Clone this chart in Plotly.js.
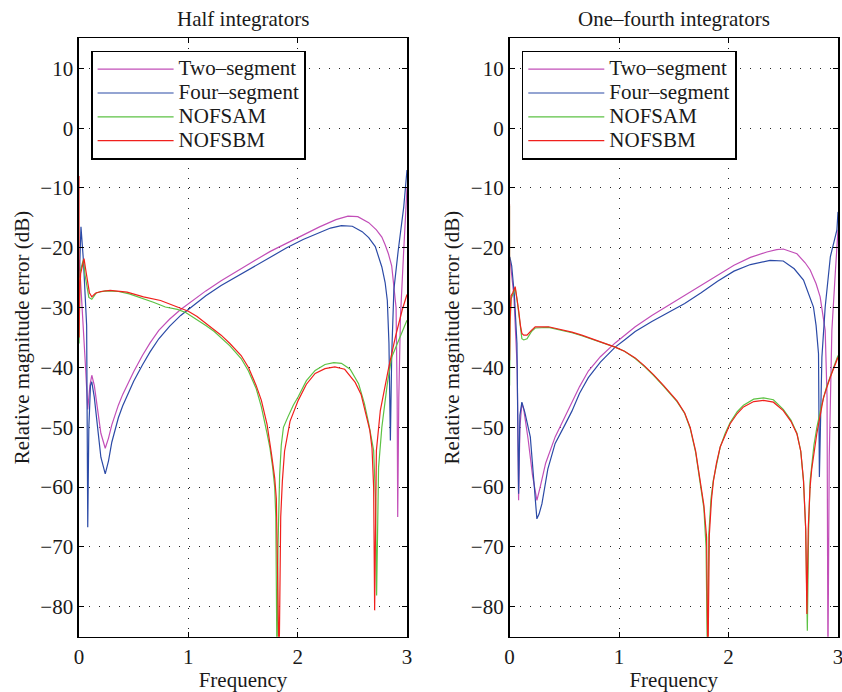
<!DOCTYPE html>
<html>
<head>
<meta charset="utf-8">
<script src="https://cdn.plot.ly/plotly-3.0.1.min.js"></script>
<style>html,body{margin:0;padding:0;background:#fff}#chart{width:842px;height:692px}</style>
</head>
<body>
<div id="chart"></div>
<script>
// ---------- data ----------
const seriesNames = ["Two\u2013segment", "Four\u2013segment", "NOFSAM", "NOFSBM"];
const panelTitles = ["Half integrators", "One\u2013fourth integrators"];
const xTitle = "Frequency";
const yTitle = "Relative magnitude error (dB)";
const xTicks = [0, 1, 2, 3];
const yTicks = [-80, -70, -60, -50, -40, -30, -20, -10, 0, 10];

// Left panel: Half integrators
const halfTwoX = [0.003, 0.03, 0.06, 0.08, 0.1, 0.117, 0.14, 0.17, 0.2, 0.24, 0.27, 0.3, 0.33, 0.36, 0.4, 0.45, 0.5, 0.58, 0.65, 0.73, 0.83, 0.93, 1.05, 1.16, 1.3, 1.45, 1.6, 1.75, 1.9, 2.05, 2.2, 2.35, 2.46, 2.55, 2.65, 2.72, 2.77, 2.8, 2.83, 2.86, 2.88, 2.9, 2.91, 2.915, 2.925, 2.94, 2.97, 3.0];
const halfTwoY = [-22, -30, -40, -47, -43, -41.3, -43, -47, -51, -53.5, -51.8, -49.6, -47.8, -46.3, -44.5, -42.5, -40.7, -38, -35.9, -33.8, -31.9, -30.3, -28.6, -27.2, -25.5, -23.8, -22.2, -20.6, -19.2, -17.8, -16.5, -15.3, -14.7, -14.8, -15.8, -17, -18.2, -19.5, -21, -23, -26, -30, -45, -65, -45, -31.6, -20.4, -10];

const halfFourX = [0.003, 0.018, 0.04, 0.07, 0.08, 0.09, 0.105, 0.117, 0.14, 0.17, 0.2, 0.24, 0.27, 0.3, 0.33, 0.36, 0.4, 0.45, 0.5, 0.58, 0.65, 0.73, 0.83, 0.93, 1.05, 1.16, 1.3, 1.45, 1.6, 1.75, 1.9, 2.05, 2.2, 2.3, 2.4, 2.5, 2.59, 2.65, 2.71, 2.77, 2.8, 2.82, 2.835, 2.848, 2.86, 2.88, 2.92, 2.97, 3.0];
const halfFourY = [-25, -16.5, -22, -33, -66.7, -50, -43, -42.4, -45, -50, -55, -57.8, -55.6, -52.5, -50.2, -48.4, -46.4, -44.2, -42.3, -39.6, -37.4, -35.2, -33.1, -31.3, -29.5, -28, -26.3, -24.7, -23.1, -21.5, -20, -18.6, -17.4, -16.7, -16.3, -16.4, -17.3, -18.3, -19.8, -23.2, -25.8, -28.8, -36, -52.2, -38, -27, -20.4, -13.2, -7];

const halfAmX = [0, 0.003, 0.01, 0.025, 0.04, 0.055, 0.07, 0.09, 0.117, 0.16, 0.24, 0.36, 0.46, 0.58, 0.68, 0.79, 0.9, 0.976, 1.08, 1.16, 1.237, 1.3, 1.38, 1.483, 1.55, 1.62, 1.668, 1.72, 1.745, 1.77, 1.79, 1.8, 1.811, 1.82, 1.835, 1.85, 1.87, 1.91, 1.96, 2.005, 2.08, 2.16, 2.25, 2.33, 2.4, 2.48, 2.557, 2.61, 2.65, 2.695, 2.712, 2.722, 2.73, 2.74, 2.77, 2.82, 2.86, 2.94, 3.0];
const halfAmY = [-36, -28, -24, -23, -22, -24.5, -26.5, -28.3, -28.6, -27.5, -27.2, -27.3, -27.7, -28.4, -29.1, -29.9, -30.3, -30.8, -32, -33, -34, -35, -36.4, -38.5, -40.6, -43.5, -46.6, -51, -53.3, -56.5, -60, -65, -90, -70, -58, -53, -50, -48.3, -46.3, -44.9, -42.2, -40.5, -39.5, -39.2, -39.3, -40.3, -42.7, -46, -49.4, -53.9, -62, -78.1, -65, -56.7, -50, -42.7, -38.3, -34.9, -32.1];

const halfBmX = [0, 0.001, 0.006, 0.015, 0.03, 0.046, 0.06, 0.075, 0.095, 0.117, 0.15, 0.2, 0.285, 0.44, 0.59, 0.746, 0.9, 1.0, 1.08, 1.16, 1.237, 1.3, 1.38, 1.483, 1.55, 1.62, 1.668, 1.72, 1.76, 1.79, 1.805, 1.83, 1.845, 1.86, 1.88, 1.93, 2.005, 2.08, 2.16, 2.25, 2.34, 2.43, 2.526, 2.58, 2.62, 2.66, 2.68, 2.695, 2.704, 2.72, 2.756, 2.8, 2.833, 2.894, 2.956, 3.0];
const halfBmY = [-8, -35, -28, -24.3, -23, -21.8, -23.5, -25.5, -27.5, -28.2, -27.6, -27.3, -27.1, -27.4, -28.2, -28.8, -29.9, -30.6, -31.5, -32.6, -33.6, -34.6, -36, -38, -40, -43, -45.5, -49.5, -54.4, -58.5, -62, -90, -65, -59, -54, -49, -45.5, -42.8, -41, -40.2, -39.9, -40.3, -42.5, -44.5, -47.5, -50.5, -53.5, -60, -80.6, -53.9, -47.2, -42.7, -40, -34.9, -30.4, -27.8];

// Right panel: One-fourth integrators
const quarTwoX = [0.005, 0.04, 0.07, 0.083, 0.095, 0.113, 0.13, 0.17, 0.21, 0.25, 0.28, 0.33, 0.417, 0.5, 0.57, 0.64, 0.72, 0.83, 0.965, 1.05, 1.148, 1.3, 1.45, 1.6, 1.75, 1.9, 2.05, 2.2, 2.35, 2.44, 2.5, 2.625, 2.7, 2.746, 2.8, 2.837, 2.883, 2.9, 2.908, 2.92, 2.935, 2.944, 2.975, 3.0];
const quarTwoY = [-22, -28, -40, -62.2, -50, -46, -47, -52, -58, -62.2, -60, -56, -51.6, -48.5, -46, -43.2, -40.6, -38.2, -35.9, -34.6, -33.2, -31.3, -29.6, -27.9, -26.2, -24.5, -22.9, -21.6, -20.7, -20.3, -20.2, -21, -22.5, -23.7, -26, -28.2, -33.8, -45, -90, -55, -40, -33.8, -24.3, -17];

const quarFourX = [0.003, 0.02, 0.045, 0.068, 0.083, 0.095, 0.113, 0.14, 0.19, 0.22, 0.25, 0.27, 0.296, 0.35, 0.417, 0.5, 0.57, 0.64, 0.72, 0.83, 0.965, 1.05, 1.148, 1.3, 1.45, 1.6, 1.75, 1.9, 2.05, 2.2, 2.38, 2.5, 2.6, 2.685, 2.776, 2.8, 2.822, 2.83, 2.853, 2.883, 2.93, 2.99, 3.0];
const quarFourY = [-21.5, -23, -28, -36, -61.1, -48, -45.8, -47.5, -51.6, -58, -65.3, -64.5, -62.8, -57, -52.7, -49.8, -47.3, -44.3, -41.7, -39.1, -36.6, -35.4, -34, -32.3, -30.8, -29.3, -27.5, -25.6, -23.9, -22.8, -22.1, -22.2, -23.5, -25.4, -29.9, -33, -37.7, -58.3, -38.3, -29.9, -21.5, -17, -14];

const quarAmX = [0, 0.001, 0.005, 0.015, 0.03, 0.052, 0.07, 0.083, 0.1, 0.113, 0.13, 0.16, 0.2, 0.235, 0.356, 0.46, 0.57, 0.66, 0.752, 0.86, 0.965, 1.05, 1.148, 1.23, 1.315, 1.406, 1.47, 1.53, 1.6, 1.65, 1.7, 1.742, 1.775, 1.795, 1.808, 1.82, 1.84, 1.86, 1.89, 1.924, 1.97, 2.015, 2.08, 2.137, 2.23, 2.32, 2.41, 2.5, 2.57, 2.625, 2.66, 2.685, 2.705, 2.72, 2.732, 2.745, 2.76, 2.78, 2.807, 2.85, 2.898, 2.95, 3.0];
const quarAmY = [-13, -43, -33, -28.5, -27.8, -26.8, -28.8, -31, -33.5, -35.2, -35.4, -35.2, -34, -33.4, -33.3, -33.7, -34.2, -34.7, -35.3, -35.9, -36.6, -37.3, -38.5, -39.8, -41.3, -43.1, -44.4, -45.7, -47.7, -50.2, -54.2, -59.2, -63.5, -70, -90, -68, -62, -59, -56, -53.3, -51, -49.2, -47.4, -46.3, -45.3, -45.1, -45.4, -47, -48.8, -51, -54, -59, -67, -84, -67, -59, -56.5, -53, -50, -46.3, -43.1, -40.5, -38];

const quarBmX = [0, 0.001, 0.005, 0.015, 0.03, 0.052, 0.07, 0.083, 0.1, 0.113, 0.13, 0.16, 0.2, 0.235, 0.356, 0.46, 0.57, 0.66, 0.752, 0.86, 0.965, 1.05, 1.148, 1.23, 1.315, 1.406, 1.47, 1.53, 1.6, 1.65, 1.7, 1.742, 1.775, 1.8, 1.812, 1.825, 1.845, 1.863, 1.89, 1.924, 1.97, 2.015, 2.08, 2.137, 2.23, 2.32, 2.41, 2.5, 2.57, 2.625, 2.66, 2.685, 2.705, 2.716, 2.728, 2.745, 2.76, 2.776, 2.807, 2.868, 2.93, 3.0];
const quarBmY = [-12.7, -38.8, -32, -28, -27.5, -26.5, -28.5, -30.4, -33, -34.3, -34.6, -34.6, -33.8, -33.2, -33.2, -33.6, -34.1, -34.6, -35.2, -35.8, -36.6, -37.3, -38.4, -39.7, -41.2, -43, -44.3, -45.6, -47.6, -50, -54, -58.9, -63, -68.4, -90, -68, -62, -58.9, -56, -53.3, -51.2, -49.4, -47.7, -46.6, -45.7, -45.5, -45.8, -47.2, -49, -51.1, -54, -58.9, -67, -81.2, -67, -60, -57, -55, -51, -45, -41.6, -38.3];

// ---------- styling ----------
const colors = ["#c24fb8", "#2b4aa6", "#5cc244", "#f0201c"];
const FONT = "'Liberation Serif', 'Times New Roman', serif";
const TXT = "#1a1a1a";
const FS = 21;

function tr(x, y, i, xa, ya, legend) {
  return {x: x, y: y, type: "scatter", mode: "lines",
    name: '<span style="font-size:' + FS + 'px">' + seriesNames[i] + '</span>',
    xaxis: xa, yaxis: ya, legend: legend,
    line: {color: colors[i], width: 1.2}, hoverinfo: "skip"};
}

const data = [
  tr(halfTwoX, halfTwoY, 0, "x", "y", "legend"),
  tr(halfFourX, halfFourY, 1, "x", "y", "legend"),
  tr(halfAmX, halfAmY, 2, "x", "y", "legend"),
  tr(halfBmX, halfBmY, 3, "x", "y", "legend"),
  tr(quarTwoX, quarTwoY, 0, "x2", "y2", "legend2"),
  tr(quarFourX, quarFourY, 1, "x2", "y2", "legend2"),
  tr(quarAmX, quarAmY, 2, "x2", "y2", "legend2"),
  tr(quarBmX, quarBmY, 3, "x2", "y2", "legend2")
];

const leftDom = [79 / 842, 407 / 842];
const rightDom = [509.5 / 842, 838 / 842];
const yDom = [1 - 636.7 / 692, 1 - 38.4 / 692];

function xax(dom, anchor) {
  return {domain: dom, anchor: anchor, range: [0, 3], tickvals: xTicks,
    ticks: "inside", ticklen: 5, tickwidth: 1, tickcolor: "#000",
    showline: true, linecolor: "#000", linewidth: 1.6, mirror: "allticks",
    showgrid: true, gridcolor: "#222", gridwidth: 1, griddash: "1px,9px",
    zeroline: false, fixedrange: true, ticklabeloverflow: "allow",
    tickfont: {family: FONT, size: FS, color: TXT},
    title: {text: xTitle, font: {family: FONT, size: FS, color: TXT}, standoff: 5},
    automargin: false};
}
function yax(anchor) {
  return {domain: yDom, anchor: anchor, range: [-85, 15], tickvals: yTicks,
    ticks: "inside", ticklen: 5, tickwidth: 1, tickcolor: "#000",
    showline: true, linecolor: "#000", linewidth: 1.6, mirror: "allticks",
    showgrid: true, gridcolor: "#222", gridwidth: 1, griddash: "1px,9px",
    zeroline: false, fixedrange: true,
    tickfont: {family: FONT, size: FS, color: TXT},
    title: {text: yTitle, font: {family: FONT, size: FS, color: TXT}, standoff: 5},
    automargin: false};
}

function leg(x) {
  return {x: x, y: 1 - 50.7 / 692, xanchor: "left", yanchor: "top",
    bgcolor: "#fff", bordercolor: "#000", borderwidth: 1.6,
    font: {family: FONT, size: 16, color: TXT}, itemwidth: 76,
    entrywidth: 160, entrywidthmode: "pixels",
    tracegroupgap: 0, traceorder: "normal"};
}

const layout = {
  width: 842, height: 692,
  margin: {l: 0, r: 0, t: 0, b: 0},
  paper_bgcolor: "#fff", plot_bgcolor: "#fff",
  showlegend: true,
  xaxis: xax(leftDom, "y"),
  yaxis: yax("x"),
  xaxis2: xax(rightDom, "y2"),
  yaxis2: yax("x2"),
  legend: leg(91 / 842),
  legend2: leg(521.7 / 842),
  annotations: [
    {text: panelTitles[0], xref: "paper", yref: "paper", x: (leftDom[0] + leftDom[1]) / 2, y: 1 - 19 / 692,
     xanchor: "center", yanchor: "middle", showarrow: false, font: {family: FONT, size: FS, color: TXT}},
    {text: panelTitles[1], xref: "paper", yref: "paper", x: (rightDom[0] + rightDom[1]) / 2, y: 1 - 19 / 692,
     xanchor: "center", yanchor: "middle", showarrow: false, font: {family: FONT, size: FS, color: TXT}}
  ]
};

Plotly.newPlot("chart", data, layout, {staticPlot: true, displayModeBar: false});
</script>
</body>
</html>
